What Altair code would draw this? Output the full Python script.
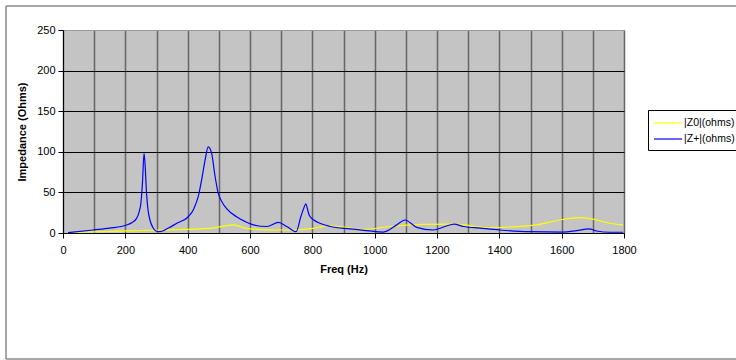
import altair as alt
import pandas as pd

# |Z+| (ohms) readings
zp_freq = [16, 97, 150, 204, 222, 236, 245, 250, 255, 260, 264, 268, 273, 279, 288, 298, 311, 340, 365, 402,
           420, 434, 446, 456, 466, 477, 487, 498, 512, 525, 557, 585, 611,
           654, 691, 718, 748, 763, 772, 779, 784, 790, 805, 824, 857, 921, 975, 1028, 1071, 1097, 1135, 1188,
           1226, 1255, 1284, 1338, 1402, 1498, 1604, 1648, 1688, 1712, 1755, 1797]
zp_val = [0.4, 3.7, 6.0, 9.8, 13, 18, 27, 37, 62, 98, 80, 49, 28, 16, 7, 2.5, 1.6, 6.5, 12, 20,
          30, 45, 68, 90, 106, 98, 72, 49, 37, 30, 20, 14, 10,
          8, 13, 8, 1.6, 20, 30, 36, 30, 22, 16, 12, 8, 5, 3, 1.2, 10, 16, 7, 3.7,
          8, 11, 8, 6, 3.7, 1.6, 1.2, 3, 5, 2.5, 0.9, 0.9]

# |Z0| (ohms) readings
z0_freq = [16, 97, 204, 311, 472, 546, 589, 691, 745, 803, 857, 889, 963, 1050, 1156, 1262, 1360, 1434,
           1520, 1594, 1659, 1701, 1755, 1797]
z0_val = [0.3, 1.5, 2.5, 3.7, 5.7, 10, 5.7, 3.7, 3.7, 5.7, 9, 8, 4.5, 8, 10.7, 11, 6.6, 7.4,
          10, 16, 19, 17, 12, 10]

names = ["|Z0|(ohms)", "|Z+|(ohms)"]

df = pd.concat([
    pd.DataFrame({"f": z0_freq, "v": z0_val, "s": names[0]}),
    pd.DataFrame({"f": zp_freq, "v": zp_val, "s": names[1]}),
])

FONT = "Liberation Sans"

x = alt.X("f:Q", scale=alt.Scale(domain=[0, 1800], nice=False),
          axis=alt.Axis(values=list(range(0, 1900, 100)), format="d",
                        labelExpr="datum.value % 200 == 0 ? datum.label : ''",
                        title="Freq (Hz)", titleFont=FONT, titleFontSize=11, titleFontWeight="bold",
                        titleColor="black", titlePadding=8,
                        labelFont=FONT, labelFontSize=11, labelColor="black", labelPadding=6,
                        labelFlush=False, labelOverlap=False,
                        tickSize=5, tickColor={"condition": {"test": "datum.value % 200 != 0", "value": "transparent"}, "value": "black"},
                        domainColor="black", domainWidth=1,
                        grid=True, gridColor="#666666", gridWidth=1.5))
y = alt.Y("v:Q", scale=alt.Scale(domain=[0, 250], nice=False),
          axis=alt.Axis(values=[0, 50, 100, 150, 200, 250],
                        title="Impedance (Ohms)", titleFont=FONT, titleFontSize=11, titleFontWeight="bold",
                        titleColor="black", titlePadding=9,
                        labelFont=FONT, labelFontSize=11, labelColor="black", labelPadding=3,
                        tickSize=5, tickColor="black", domainColor="black", domainWidth=1,
                        grid=True,
                        gridColor={"condition": {"test": "datum.value == 250", "value": "#999999"}, "value": "black"},
                        gridWidth=1))

lines = alt.Chart(df).mark_line(strokeWidth=1.2, clip=True, interpolate="monotone").encode(
    x=x, y=y,
    color=alt.Color("s:N", scale=alt.Scale(domain=names, range=["#FFFF00", "#0000FF"]),
                    legend=alt.Legend(title=None, orient="none", legendX=585, legendY=80,
                                      symbolType="M-1,0H3", symbolSize=196, symbolStrokeWidth=1.2,
                                      labelFont=FONT, labelFontSize=10.5, labelColor="black",
                                      labelOffset=15, padding=5, rowPadding=2,
                                      strokeColor="black", fillColor="white")),
    order="f:Q",
)

one = pd.DataFrame({"a": [0]})
frame_col = "#888888"
top = alt.Chart(one).mark_rule(color=frame_col, strokeWidth=1.5).encode(
    x=alt.value(-57), x2=alt.value(700), y=alt.value(-24))
bottom = alt.Chart(one).mark_rule(color=frame_col, strokeWidth=1.5).encode(
    x=alt.value(-57), x2=alt.value(700), y=alt.value(329))
left = alt.Chart(one).mark_rule(color=frame_col, strokeWidth=1.5).encode(
    x=alt.value(-57), y=alt.value(-24), y2=alt.value(329))

chart = alt.layer(lines, top, bottom, left).properties(
    width=561, height=203,
    padding={"left": 63, "top": 30, "right": 112, "bottom": 127},
    autosize=alt.AutoSizeParams(type="none"),
    background="white",
).configure_view(fill="#C4C4C4", stroke="#999999", strokeWidth=1)

chart.save("out.html", embed_options={"renderer": "svg", "actions": False})
